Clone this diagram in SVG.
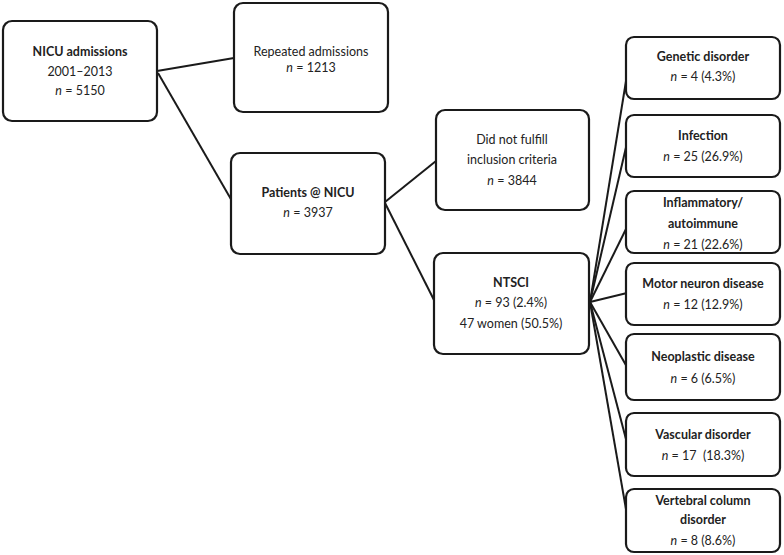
<svg xmlns="http://www.w3.org/2000/svg" width="784" height="555" viewBox="0 0 784 555">
<style>
.box{fill:#fff;stroke:#1a1a1a;stroke-width:2.2}
.ln{stroke:#1a1a1a;stroke-width:2;fill:none}
text{font-family:Lato,"Open Sans","Liberation Sans",sans-serif;font-size:12.5px;fill:#222;text-anchor:middle}
.b{font-weight:bold}
.i{font-style:italic}
</style>
<rect width="784" height="555" fill="#fff"/>
<g id="connectors">
<line class="ln" x1="157" y1="71" x2="234" y2="58"/>
<line class="ln" x1="158" y1="73" x2="232" y2="201"/>
<line class="ln" x1="385" y1="202" x2="436" y2="161"/>
<line class="ln" x1="385" y1="203" x2="434" y2="300"/>
<line class="ln" x1="590" y1="302" x2="627" y2="75"/>
<line class="ln" x1="590" y1="302" x2="627" y2="143"/>
<line class="ln" x1="590" y1="302" x2="627" y2="227"/>
<line class="ln" x1="590" y1="302" x2="627" y2="293"/>
<line class="ln" x1="590" y1="302" x2="627" y2="367"/>
<line class="ln" x1="590" y1="302" x2="627" y2="443"/>
<line class="ln" x1="590" y1="302" x2="627" y2="515"/>
</g>
<g id="nicu">
<rect class="box" x="3" y="21" width="154" height="100" rx="9"/>
<text class="b" x="80" y="56">NICU admissions</text>
<text x="80" y="76">2001–2013</text>
<text x="80" y="95"><tspan class="i">n</tspan> = 5150</text>
</g>
<g id="repeated">
<rect class="box" x="234" y="3" width="154" height="109" rx="9"/>
<text x="311" y="56">Repeated admissions</text>
<text x="311" y="72"><tspan class="i">n</tspan> = 1213</text>
</g>
<g id="patients">
<rect class="box" x="231" y="153" width="154" height="101" rx="9"/>
<text class="b" x="308" y="197">Patients @ NICU</text>
<text x="308" y="217"><tspan class="i">n</tspan> = 3937</text>
</g>
<g id="notfulfill">
<rect class="box" x="436" y="110" width="153" height="100" rx="9"/>
<text x="512" y="144">Did not fulfill</text>
<text x="512" y="164">inclusion criteria</text>
<text x="512" y="185"><tspan class="i">n</tspan> = 3844</text>
</g>
<g id="ntsci">
<rect class="box" x="434" y="253" width="155" height="101" rx="9"/>
<text class="b" x="511" y="287">NTSCI</text>
<text x="511" y="307"><tspan class="i">n</tspan> = 93 (2.4%)</text>
<text x="511" y="328">47 women (50.5%)</text>
</g>
<g id="genetic">
<rect class="box" x="626" y="37" width="154" height="62" rx="8"/>
<text class="b" x="703" y="61">Genetic disorder</text>
<text x="703" y="81"><tspan class="i">n</tspan> = 4 (4.3%)</text>
</g>
<g id="infection">
<rect class="box" x="626" y="115" width="154" height="62" rx="8"/>
<text class="b" x="703" y="140">Infection</text>
<text x="703" y="161"><tspan class="i">n</tspan> = 25 (26.9%)</text>
</g>
<g id="inflammatory">
<rect class="box" x="626" y="191" width="154" height="62" rx="8"/>
<text class="b" x="703" y="207">Inflammatory/</text>
<text class="b" x="703" y="228">autoimmune</text>
<text x="703" y="249"><tspan class="i">n</tspan> = 21 (22.6%)</text>
</g>
<g id="motor">
<rect class="box" x="626" y="263" width="154" height="62" rx="8"/>
<text class="b" x="703" y="288">Motor neuron disease</text>
<text x="703" y="309"><tspan class="i">n</tspan> = 12 (12.9%)</text>
</g>
<g id="neoplastic">
<rect class="box" x="626" y="334" width="154" height="66" rx="8"/>
<text class="b" x="703" y="361">Neoplastic disease</text>
<text x="703" y="383"><tspan class="i">n</tspan> = 6 (6.5%)</text>
</g>
<g id="vascular">
<rect class="box" x="626" y="413" width="154" height="63" rx="8"/>
<text class="b" x="703" y="439">Vascular disorder</text>
<text x="703" y="460"><tspan class="i">n</tspan> = 17&#160; (18.3%)</text>
</g>
<g id="vertebral">
<rect class="box" x="626" y="489" width="154" height="63" rx="8"/>
<text class="b" x="703" y="505">Vertebral column</text>
<text class="b" x="703" y="524">disorder</text>
<text x="703" y="545"><tspan class="i">n</tspan> = 8 (8.6%)</text>
</g>
</svg>
